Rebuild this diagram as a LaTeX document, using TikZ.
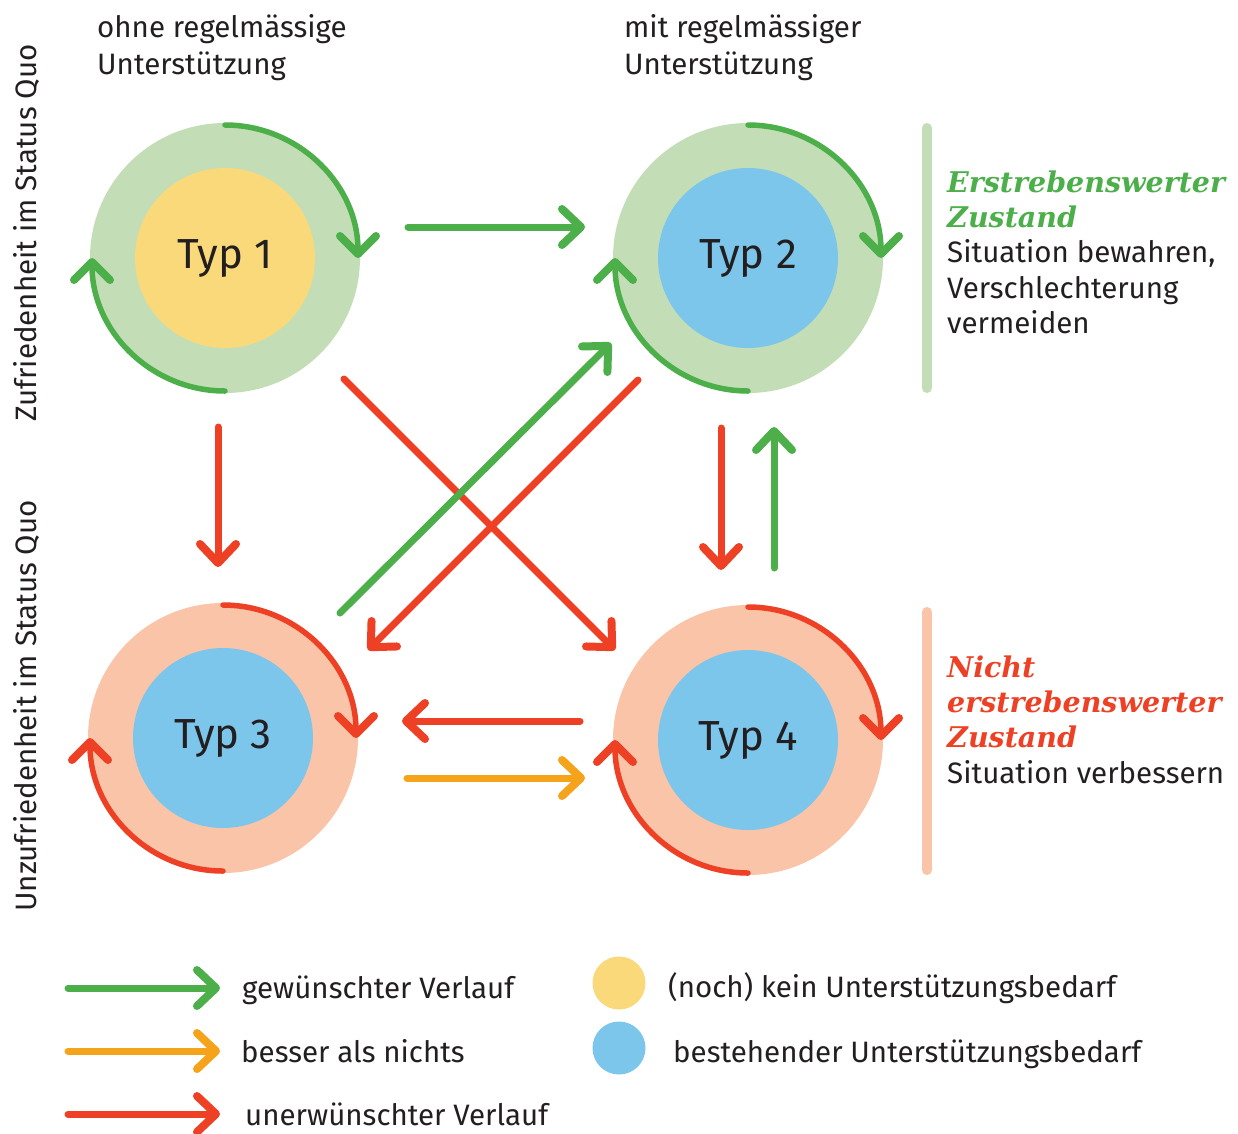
\documentclass[tikz,border=0pt]{standalone}
\usepackage{fontspec}
\setmainfont{Fira Sans}
\newfontfamily\headfont{DejaVu Serif}
\usetikzlibrary{arrows.meta,calc}
\definecolor{cgreen}{HTML}{4CAF4A}
\definecolor{clgreen}{HTML}{C3DEB7}
\definecolor{cyellow}{HTML}{FAD97A}
\definecolor{cblue}{HTML}{7CC5EB}
\definecolor{cpeach}{HTML}{F9C4A8}
\definecolor{cred}{HTML}{EE4024}
\definecolor{corange}{HTML}{F6A31C}
\definecolor{ctext}{HTML}{231F20}
\tikzset{
  ring/.style={circle, minimum size=270pt, inner sep=0pt},
  core/.style={circle, minimum size=180pt, inner sep=0pt, text=ctext, font=\fontsize{42}{50}\selectfont},
  flow/.style={line width=7pt, line cap=round, -{Straight Barb[round,length=19pt,width=36pt,line width=8pt]}},
  cyc/.style={line width=5.5pt, line cap=round, -{Straight Barb[round,length=18pt,width=36pt,line width=8pt]}},
  txt/.style={anchor=base west, inner sep=0pt, text=ctext, font=\fontsize{29.5}{35}\selectfont},
  head/.style={anchor=base west, inner sep=0pt, font=\headfont\bfseries\itshape\fontsize{28.5}{35}\selectfont},
  bar/.style={line width=10pt, line cap=round},
  dot/.style={circle, minimum width=52pt, minimum height=53pt, inner sep=0pt},
  side/.style={rotate=90, inner sep=0pt, text=ctext, font=\fontsize{29.5}{35}\selectfont}
}
\begin{document}
\begin{tikzpicture}[x=1pt,y=-1pt]
\useasboundingbox (0,0) rectangle (1238,1133);
\fill[white] (0,0) rectangle (1238,1133);

% circles
\node[ring, fill=clgreen] (o1) at (225,258) {};
\node[core, fill=cyellow] (t1) at (225,258) {Typ 1};
\node[ring, fill=clgreen] (o2) at (748,258) {};
\node[core, fill=cblue] (t2) at (748,258) {Typ 2};
\node[ring, fill=cpeach] (o3) at (223,738) {};
\node[core, fill=cblue] (t3) at (223,738) {Typ 3};
\node[ring, fill=cpeach] (o4) at (748,740) {};
\node[core, fill=cblue] (t4) at (748,740) {Typ 4};

% cycle arcs
\draw[cyc, cgreen] ($(o1)+(0,-133)$) arc[start angle=-90, end angle=0, radius=133];
\draw[cyc, cgreen] ($(o1)+(0,133)$) arc[start angle=90, end angle=180, radius=133];
\draw[cyc, cgreen] ($(o2)+(0,-133)$) arc[start angle=-90, end angle=0, radius=133];
\draw[cyc, cgreen] ($(o2)+(0,133)$) arc[start angle=90, end angle=180, radius=133];
\draw[cyc, cred] ($(o3)+(0,-133)$) arc[start angle=-90, end angle=0, radius=133];
\draw[cyc, cred] ($(o3)+(0,133)$) arc[start angle=90, end angle=180, radius=133];
\draw[cyc, cred] ($(o4)+(0,-133)$) arc[start angle=-90, end angle=0, radius=133];
\draw[cyc, cred] ($(o4)+(0,133)$) arc[start angle=90, end angle=180, radius=133];

% connector ends
\coordinate (a12s) at (408,227); \coordinate (a12e) at (585,227);
\coordinate (a13s) at (218,427); \coordinate (a13e) at (218,567);
\coordinate (a24s) at (721,428); \coordinate (a24e) at (721,570);
\coordinate (a42s) at (774,568); \coordinate (a42e) at (774,427);
\coordinate (a14s) at (344,379); \coordinate (a14e) at (615,650);
\coordinate (a32s) at (340,613); \coordinate (a32e) at (611,343);
\coordinate (a23s) at (638,380); \coordinate (a23e) at (368,650);
\coordinate (a43s) at (580,721); \coordinate (a43e) at (402,721);
\coordinate (a34s) at (407,778); \coordinate (a34e) at (585,778);

\draw[flow, cred] (a14s) -- (a14e);
\draw[flow, cgreen] (a32s) -- (a32e);
\draw[flow, cred] (a23s) -- (a23e);
\draw[flow, cgreen] (a12s) -- (a12e);
\draw[flow, cred] (a13s) -- (a13e);
\draw[flow, cred] (a24s) -- (a24e);
\draw[flow, cgreen] (a42s) -- (a42e);
\draw[flow, cred] (a43s) -- (a43e);
\draw[flow, corange] (a34s) -- (a34e);

% headers
\node[txt] (h1) at (97,37) {ohne regelmässige};
\node[txt] (h1b) at (97,74) {Unterstützung};
\node[txt] (h2) at (624,37) {mit regelmässiger};
\node[txt] (h2b) at (624,74) {Unterstützung};

% side labels
\node[side] (s1) at (27,233) {Zufriedenheit im Status Quo};
\node[side] (s2) at (27,706) {Unzufriedenheit im Status Quo};

% right bars and texts
\draw[bar, clgreen] (927,128) -- (927,388);
\draw[bar, cpeach] (927,612) -- (927,870);
\node[head, cgreen] (g1) at (947,192) {Erstrebenswerter};
\node[head, cgreen] (g2) at (947,227) {Zustand};
\node[txt] (g3) at (947,262) {Situation bewahren,};
\node[txt] (g4) at (947,298) {Verschlechterung};
\node[txt] (g5) at (947,333) {vermeiden};
\node[head, cred] (r1) at (947,677) {Nicht};
\node[head, cred] (r2) at (947,712) {erstrebenswerter};
\node[head, cred] (r3) at (947,747) {Zustand};
\node[txt] (r4) at (947,783) {Situation verbessern};

% legend
\coordinate (l1s) at (68,988); \coordinate (l1e) at (220,988);
\coordinate (l2s) at (68,1051); \coordinate (l2e) at (220,1051);
\coordinate (l3s) at (68,1114); \coordinate (l3e) at (220,1114);
\draw[flow, cgreen] (l1s) -- (l1e);
\draw[flow, corange] (l2s) -- (l2e);
\draw[flow, cred] (l3s) -- (l3e);
\node[txt] (lt1) at (242,998) {gewünschter Verlauf};
\node[txt] (lt2) at (241,1062) {besser als nichts};
\node[txt] (lt3) at (245,1125) {unerwünschter Verlauf};
\node[dot, fill=cyellow] (d1) at (619,983) {};
\node[dot, fill=cblue] (d2) at (619,1048) {};
\node[txt] (dt1) at (668,997) {(noch) kein Unterstützungsbedarf};
\node[txt] (dt2) at (673,1062) {bestehender Unterstützungsbedarf};
\end{tikzpicture}
\end{document}
